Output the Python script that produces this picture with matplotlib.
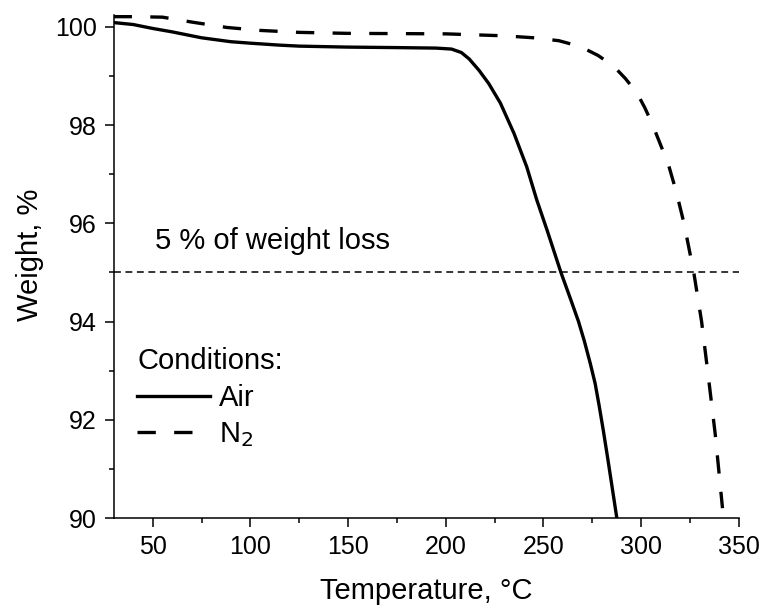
import matplotlib
matplotlib.use('Agg')
import matplotlib.pyplot as plt
from matplotlib.ticker import MultipleLocator

plt.rcParams['font.family'] = ['Liberation Sans', 'DejaVu Sans']

# TGA curves
t_air = [30, 40, 50, 60, 75, 90, 100, 115, 125, 150, 175, 195, 203, 208, 212, 217, 222, 228,
         235, 241.5, 246.6, 252, 259, 264, 268, 271, 274, 276.5, 278.5, 280.7, 283, 285, 287.6]
w_air = [100.09, 100.05, 99.97, 99.9, 99.78, 99.7, 99.67, 99.63, 99.61, 99.59, 99.58, 99.57,
         99.55, 99.48, 99.35, 99.12, 98.85, 98.45, 97.83, 97.15, 96.48, 95.85, 95.0,
         94.45, 94.0, 93.6, 93.15, 92.74, 92.3, 91.78, 91.2, 90.68, 90.0]

t_n2 = [30, 40, 55, 70, 88, 105, 125, 150, 200, 230, 245, 258, 269, 278, 286, 292, 298, 302,
        306, 310, 314, 318, 322, 327, 331, 335, 338, 341.7]
w_n2 = [100.21, 100.21, 100.2, 100.1, 99.99, 99.93, 99.89, 99.87, 99.86, 99.82, 99.78, 99.72,
        99.6, 99.42, 99.2, 98.95, 98.65, 98.35, 98.0, 97.6, 97.2, 96.65, 96.0, 95.0, 94.0,
        92.7, 91.7, 90.2]

loss_level = 95
x_range = [30, 350]

fig = plt.figure(figsize=(7.64, 6.05), dpi=100)
ax = fig.add_axes([0.1487, 0.1438, 0.8182, 0.8319])

ax.plot(x_range, [loss_level, loss_level], color='black', lw=1.1, dashes=(4.5, 3))
ax.plot(t_air, w_air, color='black', lw=2.4, label='Air')
ax.plot(t_n2, w_n2, color='black', lw=2.4, dashes=(5.5, 5.5), label='N$_2$')
ax.text(51.2, 95.48, '5 % of weight loss', fontsize=21, va='baseline', ha='left')

ax.set_xlim(30, 350)
ax.set_ylim(90, 100.25)
ax.xaxis.set_major_locator(MultipleLocator(50))
ax.xaxis.set_minor_locator(MultipleLocator(25))
ax.yaxis.set_major_locator(MultipleLocator(2))
ax.yaxis.set_minor_locator(MultipleLocator(1))
for s in ['top', 'right']:
    ax.spines[s].set_visible(False)
for s in ['left', 'bottom']:
    ax.spines[s].set_linewidth(1.1)
ax.tick_params(which='major', direction='out', length=6.5, width=1.1, labelsize=18, pad=5.5)
ax.tick_params(which='minor', direction='out', length=3.6, width=1.1)
ax.set_xlabel('Temperature, °C', fontsize=21, labelpad=13)
ax.set_ylabel('Weight, %', fontsize=21, labelpad=8)
ax.yaxis.label.set_y(0.5235)

leg = ax.legend(title='Conditions:', loc='lower left', bbox_to_anchor=(0.005, 0.096),
                frameon=False, fontsize=21, title_fontsize=21, handlelength=2.5,
                handletextpad=0.3, labelspacing=0.3, alignment='left',
                borderaxespad=0.3)

fig.savefig('out.png', dpi=100)
